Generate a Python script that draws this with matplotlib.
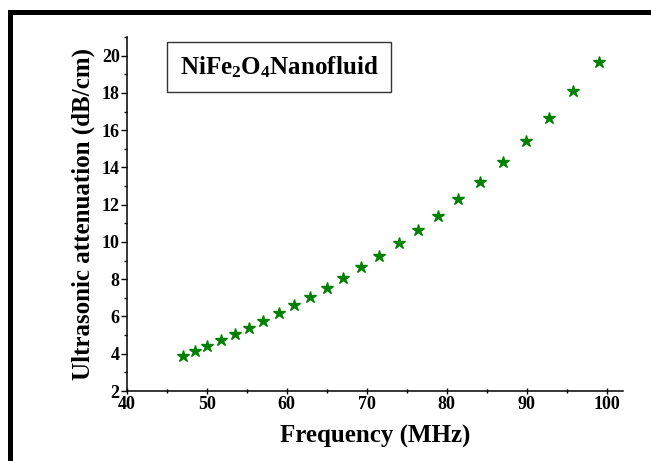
import matplotlib.pyplot as plt
from matplotlib.patches import Rectangle
from matplotlib.ticker import MultipleLocator

# ------------------------------
# DATA
# ------------------------------
freq = [47.0, 48.6, 50.1, 51.8, 53.5, 55.25, 57.0, 59.0, 60.9, 62.9, 65.0, 67.1,
        69.3, 71.6, 74.0, 76.4, 78.95, 81.45, 84.2, 87.0, 89.9, 92.8, 95.8, 99.0]
atten = [3.88, 4.17, 4.42, 4.74, 5.05, 5.39, 5.76, 6.18, 6.62, 7.05, 7.55, 8.06,
         8.65, 9.24, 9.92, 10.64, 11.42, 12.31, 13.24, 14.27, 15.42, 16.68, 18.09, 19.65]
x_ticks = [40, 50, 60, 70, 80, 90, 100]
y_ticks = [2, 4, 6, 8, 10, 12, 14, 16, 18, 20]

plt.rcParams['font.family'] = ['Liberation Serif', 'DejaVu Serif']
plt.rcParams['font.weight'] = 'bold'
plt.rcParams['mathtext.fontset'] = 'custom'
plt.rcParams['mathtext.rm'] = 'Liberation Serif:bold'
plt.rcParams['mathtext.it'] = 'Liberation Serif:bold'
plt.rcParams['mathtext.bf'] = 'Liberation Serif:bold'

fig = plt.figure(figsize=(6.51, 4.61), dpi=100)
ax = fig.add_axes([0.1946, 0.1518, 0.7629, 0.7679])

ax.plot(freq, atten, linestyle='none', marker='*', markersize=9,
        color='#008000', markeredgecolor='#008000')

ax.set_xlim(40, 102.1)
ax.set_ylim(2, 21)
ax.set_xticks(x_ticks)
ax.set_yticks(y_ticks)
ax.xaxis.set_minor_locator(MultipleLocator(5))
ax.yaxis.set_minor_locator(MultipleLocator(1))

for s in ['top', 'right']:
    ax.spines[s].set_visible(False)
for s in ['left', 'bottom']:
    ax.spines[s].set_linewidth(1.1)

ax.tick_params(axis='x', which='major', direction='inout', length=5, width=1, pad=1, labelsize=13)
ax.tick_params(axis='x', which='minor', direction='inout', length=3, width=1)
ax.tick_params(axis='y', which='major', direction='out', length=4, width=1, pad=1, labelsize=13)
ax.tick_params(axis='y', which='minor', direction='out', length=2, width=1)

ax.set_xlabel('Frequency (MHz)', fontsize=18, fontweight='bold', labelpad=9)
ax.set_ylabel('Ultrasonic attenuation (dB/cm)', fontsize=18, fontweight='bold', labelpad=5)

ax.text(0.307, 0.915, r'NiFe$_{2}$O$_{4}$Nanofluid', transform=ax.transAxes,
        ha='center', va='center', fontsize=18, fontweight='bold',
        bbox=dict(boxstyle='square,pad=0.5', facecolor='white', edgecolor='#333333', linewidth=1))

# outer frame (cut off at right and bottom)
fig.patches.append(Rectangle((0.0146, -0.5), 2.0, 1.474, transform=fig.transFigure,
                             fill=False, edgecolor='black', linewidth=3.6))

fig.savefig('out.png', dpi=100)
